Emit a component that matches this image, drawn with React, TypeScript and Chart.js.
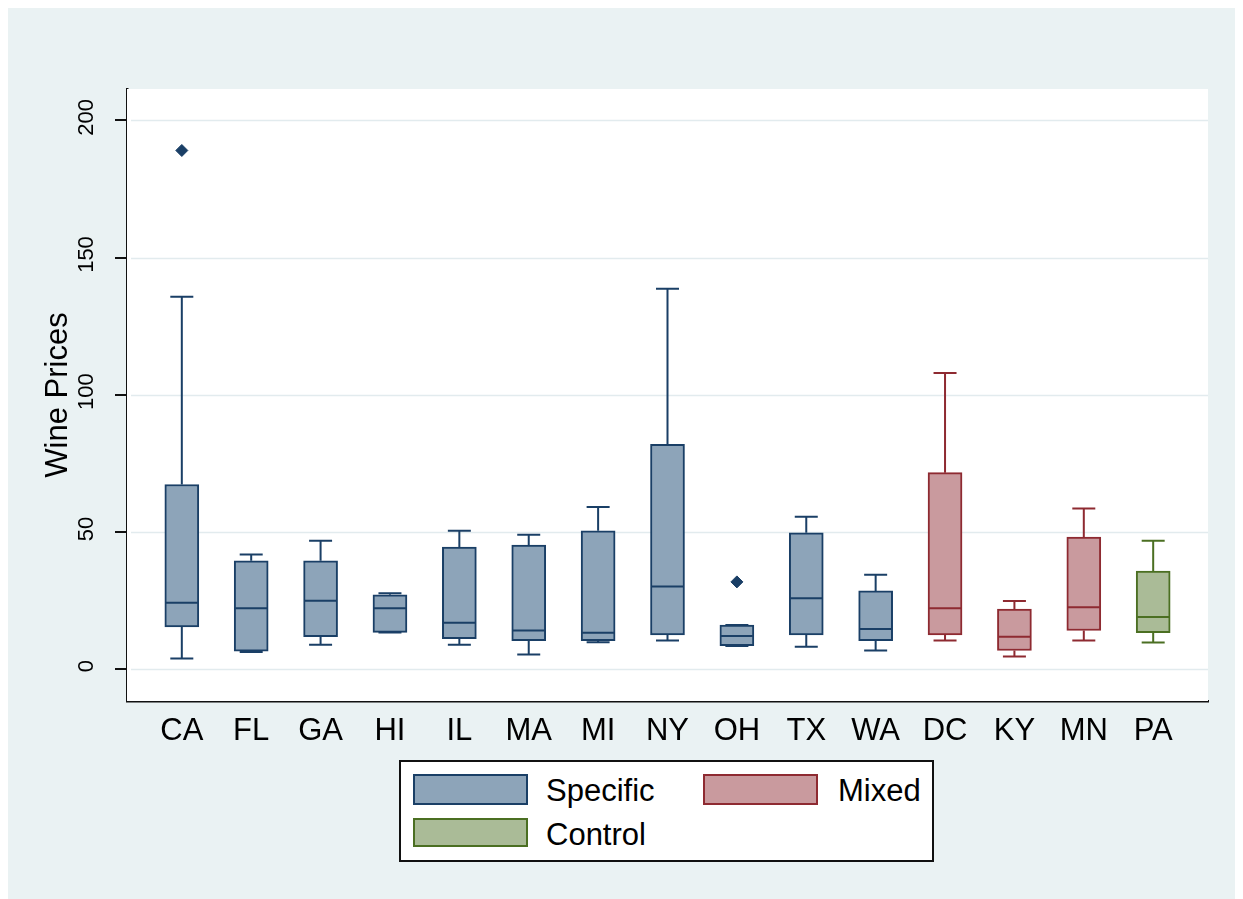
import React, { useEffect, useRef } from 'react';
import { Chart, registerables } from 'chart.js';

Chart.register(...registerables);

const categories = ['CA', 'FL', 'GA', 'HI', 'IL', 'MA', 'MI', 'NY', 'OH', 'TX', 'WA', 'DC', 'KY', 'MN', 'PA'];
const groups = ['Specific', 'Specific', 'Specific', 'Specific', 'Specific', 'Specific', 'Specific', 'Specific', 'Specific', 'Specific', 'Specific', 'Mixed', 'Mixed', 'Mixed', 'Control'];
const lowerWhisker = [3.9, 6.3, 8.9, 13.4, 8.9, 5.3, 9.8, 10.4, 8.4, 8.2, 6.8, 10.4, 4.6, 10.4, 9.7];
const q1 = [15.4, 6.6, 11.8, 13.4, 11.1, 10.4, 10.4, 12.5, 8.6, 12.5, 10.4, 12.5, 6.8, 14.1, 13.3];
const median = [24.2, 22.2, 24.9, 22.2, 16.9, 14.1, 13.3, 30.1, 12.1, 25.8, 14.6, 22.2, 11.8, 22.6, 19.0];
const q3 = [67.3, 39.5, 39.5, 27.1, 44.5, 45.2, 50.4, 81.9, 16.1, 49.7, 28.5, 71.6, 21.9, 48.1, 35.7];
const upperWhisker = [135.7, 41.8, 46.8, 27.7, 50.4, 49.0, 59.1, 138.6, 16.1, 55.5, 34.4, 107.9, 24.8, 58.5, 46.8];
const outlierCategories = ['CA', 'OH'];
const outlierValues = [189.0, 31.8];
const yTicks = [0, 50, 100, 150, 200];
const legendLabels = ['Specific', 'Mixed', 'Control'];

const FONT = '"Liberation Sans", Arial, sans-serif';
const fillColors: Record<string, string> = { Specific: '#8da4b9', Mixed: '#c99a9e', Control: '#aabb97' };
const lineColors: Record<string, string> = { Specific: '#1a3f66', Mixed: '#8e2a31', Control: '#4b6f22' };

export default function App() {
  const ref = useRef<HTMLCanvasElement>(null);

  useEffect(() => {
    const canvas = ref.current;
    if (!canvas) return;

    const boxPlugin = {
      id: 'boxExtras',
      beforeDatasetsDraw(chart: any) {
        const { ctx, chartArea } = chart;
        ctx.save();
        ctx.fillStyle = '#ffffff';
        ctx.fillRect(chartArea.left, chartArea.top, chartArea.right - chartArea.left, chartArea.bottom - chartArea.top);
        const ys = chart.scales.y;
        ctx.strokeStyle = '#e2ebee';
        ctx.lineWidth = 1.5;
        ys.ticks.forEach((t: any) => {
          const py = Math.round(ys.getPixelForValue(t.value)) + 0.5;
          ctx.beginPath();
          ctx.moveTo(chartArea.left + 4, py);
          ctx.lineTo(chartArea.right, py);
          ctx.stroke();
        });
        ctx.restore();
      },
      afterDatasetsDraw(chart: any) {
        const { ctx, scales } = chart;
        const xs = scales.x;
        const ys = scales.y;
        const capHalf = 11.5;
        const boxHalf = 16;
        categories.forEach((_c, i) => {
          const px = xs.getPixelForValue(i);
          const col = lineColors[groups[i]];
          const yQ1 = ys.getPixelForValue(q1[i]);
          const yQ3 = ys.getPixelForValue(q3[i]);
          const yLo = ys.getPixelForValue(lowerWhisker[i]);
          const yHi = ys.getPixelForValue(upperWhisker[i]);
          const yMed = ys.getPixelForValue(median[i]);
          ctx.save();
          ctx.strokeStyle = col;
          ctx.lineWidth = 2;
          ctx.beginPath();
          ctx.moveTo(px, yQ3);
          ctx.lineTo(px, yHi);
          ctx.moveTo(px - capHalf, yHi);
          ctx.lineTo(px + capHalf, yHi);
          ctx.moveTo(px, yQ1);
          ctx.lineTo(px, yLo);
          ctx.moveTo(px - capHalf, yLo);
          ctx.lineTo(px + capHalf, yLo);
          ctx.moveTo(px - boxHalf, yMed);
          ctx.lineTo(px + boxHalf, yMed);
          ctx.stroke();
          ctx.restore();
        });
      },
      afterDraw(chart: any) {
        const { ctx, chartArea } = chart;
        const ys = chart.scales.y;
        ctx.save();
        ctx.fillStyle = '#000';
        ctx.font = `22px ${FONT}`;
        ctx.textAlign = 'center';
        ctx.textBaseline = 'alphabetic';
        ys.ticks.forEach((t: any) => {
          const py = ys.getPixelForValue(t.value);
          ctx.save();
          ctx.translate(85, py - 3);
          ctx.rotate(-Math.PI / 2);
          ctx.fillText(String(t.value), 0, 0);
          ctx.restore();
        });
        ctx.font = `31px ${FONT}`;
        ctx.save();
        ctx.translate(58.5, (chartArea.top + chartArea.bottom) / 2);
        ctx.rotate(-Math.PI / 2);
        ctx.fillText('Wine Prices', 0, 0);
        ctx.restore();
        ctx.restore();
      },
    };

    const chart = new Chart(canvas, {
      type: 'bar',
      data: {
        datasets: [
          {
            type: 'bar',
            label: 'boxes',
            data: categories.map((_c, i) => ({ x: i, y: [q1[i], q3[i]] })) as any,
            backgroundColor: groups.map((g) => fillColors[g]),
            borderColor: groups.map((g) => lineColors[g]),
            borderWidth: 2,
            borderSkipped: false,
            barThickness: 34,
            grouped: false,
          } as any,
          {
            type: 'scatter',
            label: 'outliers',
            data: outlierCategories.map((c, i) => ({ x: categories.indexOf(c), y: outlierValues[i] })),
            pointStyle: 'rectRot',
            radius: 6,
            backgroundColor: lineColors.Specific,
            borderColor: lineColors.Specific,
            borderWidth: 1,
          } as any,
        ],
      },
      options: {
        responsive: false,
        animation: false,
        events: [],
        layout: { padding: { left: 0, top: 81, right: 35, bottom: 138 } },
        plugins: {
          legend: { display: false },
          tooltip: { enabled: false },
        },
        scales: {
          x: {
            type: 'linear',
            offset: false,
            min: -0.79,
            max: 14.79,
            afterBuildTicks: (s: any) => {
              s.ticks = categories.map((_c, i) => ({ value: i }));
            },
            afterFit: (s: any) => {
              s.height = 60;
            },
            ticks: {
              callback: (v: any) => categories[Math.round(Number(v))],
              autoSkip: false,
              maxRotation: 0,
              minRotation: 0,
              padding: 12,
              color: '#000',
              font: { size: 31, family: FONT },
            },
            grid: { display: false, drawTicks: false, offset: false },
            border: { display: true, color: '#111', width: 2.5 },
          },
          y: {
            type: 'linear',
            min: -11.6,
            max: 211.4,
            afterBuildTicks: (s: any) => {
              s.ticks = yTicks.map((v) => ({ value: v }));
            },
            afterFit: (s: any) => {
              s.width = 119;
            },
            ticks: { display: false },
            grid: { display: true, color: 'rgba(0,0,0,0)', tickColor: '#111', tickLength: 12, lineWidth: 2, drawTicks: true },
            border: { display: true, color: '#111', width: 2.5 },
          },
        },
      } as any,
      plugins: [boxPlugin],
    });

    return () => chart.destroy();
  }, []);

  const abs = (s: React.CSSProperties): React.CSSProperties => ({ position: 'absolute', boxSizing: 'border-box', ...s });
  const textStyle = (left: number, top: number): React.CSSProperties =>
    abs({ left, top, fontFamily: FONT, fontSize: 31, lineHeight: '36px', color: '#000', whiteSpace: 'nowrap' });

  return (
    <div style={{ position: 'relative', width: 1235, height: 891, background: '#eaf2f3', overflow: 'hidden' }}>
      <style>{'body{overflow:hidden}'}</style>
      <canvas ref={ref} width={1235} height={891} style={{ display: 'block' }} />
      <div style={abs({ left: 391, top: 752, width: 535, height: 102, border: '2px solid #111', background: '#fff' })} />
      <div style={abs({ left: 404.5, top: 766.3, width: 115, height: 31, background: fillColors.Specific, border: `2px solid ${lineColors.Specific}` })} />
      <div style={textStyle(538, 765)}>{legendLabels[0]}</div>
      <div style={abs({ left: 694.6, top: 766.3, width: 115.6, height: 31, background: fillColors.Mixed, border: `2px solid ${lineColors.Mixed}` })} />
      <div style={textStyle(830, 765)}>{legendLabels[1]}</div>
      <div style={abs({ left: 404.5, top: 810.3, width: 115, height: 29, background: fillColors.Control, border: `2px solid ${lineColors.Control}` })} />
      <div style={textStyle(538, 809)}>{legendLabels[2]}</div>
    </div>
  );
}
